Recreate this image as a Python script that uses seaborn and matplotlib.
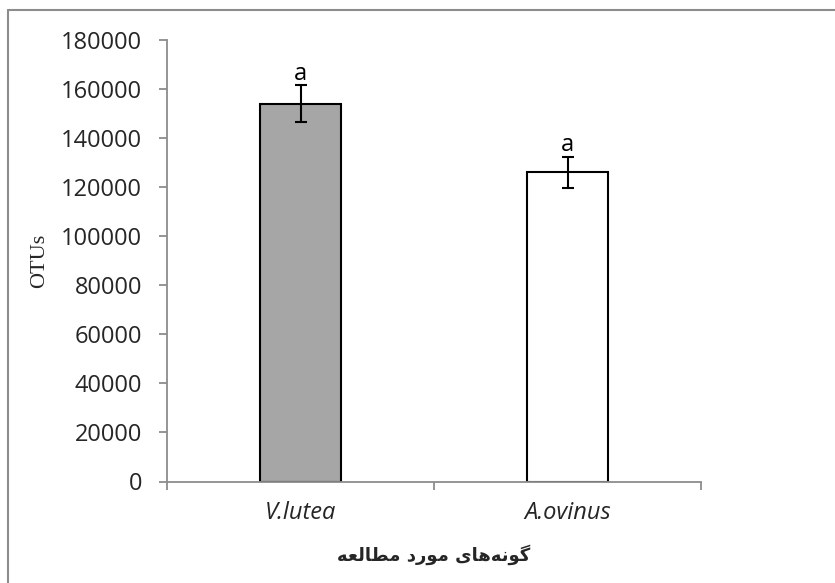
import matplotlib
matplotlib.use("Agg")
import matplotlib.pyplot as plt
import seaborn as sns
import pandas as pd
from matplotlib.lines import Line2D

# ---- data ----
species = ["V.lutea", "A.ovinus"]
otus = [154000, 126000]
errors = [7600, 6300]
letters = ["a", "a"]
bar_colors = ["#a6a6a6", "#ffffff"]
yticks = [0, 20000, 40000, 60000, 80000, 100000, 120000, 140000, 160000, 180000]

# Persian x label (logical text) and a shaped, visual-order version for drawing
xlabel_logical = "گونه‌های مورد مطالعه"
shaped_words = [
    "\uFB94\uFEEE\uFEE7\uFEEA\uFEEB\uFE8E\uFBFC",  # گونه‌های
    "\uFEE3\uFEEE\uFEAD\uFEA9",                    # مورد
    "\uFEE3\uFEC4\uFE8E\uFEDF\uFECC\uFEEA",        # مطالعه
]
xlabel_visual = " ".join(shaped_words)[::-1]

sns.set_theme(style="white")
plt.rcParams["font.family"] = ["Open Sans", "DejaVu Sans"]

df = pd.DataFrame({"species": species, "otus": otus})

fig = plt.figure(figsize=(8.35, 5.83), dpi=100)
ax = fig.add_axes([167 / 835, 1 - 481.5 / 583, (701 - 167) / 835, (481.5 - 40) / 583])

sns.barplot(data=df, x="species", y="otus", hue="species", palette=bar_colors,
            width=0.3, edgecolor="black", linewidth=1.5, legend=False, ax=ax,
            saturation=1)

ax.errorbar(x=range(len(species)), y=otus, yerr=errors, fmt="none",
            ecolor="black", elinewidth=1.5, capsize=4.3, capthick=1.5, zorder=5)

for i, (v, e, l) in enumerate(zip(otus, errors, letters)):
    ax.annotate(l, xy=(i, v + e), xytext=(0, 4), textcoords="offset points",
                ha="center", va="baseline", fontsize=17, color="black")

ax.set_xlim(-0.5, len(species) - 0.5)
ax.set_ylim(0, 180000)
ax.set_yticks(yticks)
ax.set_yticklabels([str(t) for t in yticks])

# category boundary ticks
ax.set_xticks([-0.5, 0.5, 1.5], minor=True)
ax.tick_params(axis="x", which="minor", bottom=True, length=6, width=1.3,
               color="#8c8c8c", direction="out")
ax.tick_params(axis="x", which="major", bottom=True, length=0, pad=14, labelsize=17)
for lab in ax.get_xticklabels():
    lab.set_fontstyle("italic")
ax.tick_params(axis="y", which="major", left=True, length=6, width=1.3,
               color="#8c8c8c", direction="out", pad=12, labelsize=17)

for s in ["top", "right"]:
    ax.spines[s].set_visible(False)
for s in ["left", "bottom"]:
    ax.spines[s].set_color("#8c8c8c")
    ax.spines[s].set_linewidth(1.3)

ax.set_ylabel("OTUs", family="Liberation Serif", fontsize=16)
ax.yaxis.set_label_coords((40 - 167) / 534, 0.5)
ax.yaxis.label.set_va("center")
ax.yaxis.label.set_ha("center")

ax.set_xlabel(xlabel_visual, family=["DejaVu Sans"], fontsize=13, fontweight="bold")
ax.xaxis.set_label_coords(0.5, (481.5 - 555) / 441.5)
ax.xaxis.label.set_va("center")

# figure border (left and top visible)
W, H = 835, 583
fig.add_artist(Line2D([8 / W, 8 / W], [0, 1 - 10 / H], transform=fig.transFigure,
                      color="#8c8c8c", linewidth=1.5))
fig.add_artist(Line2D([8 / W, 1], [1 - 10 / H, 1 - 10 / H], transform=fig.transFigure,
                      color="#8c8c8c", linewidth=1.5))

fig.savefig("out.png", dpi=100)
